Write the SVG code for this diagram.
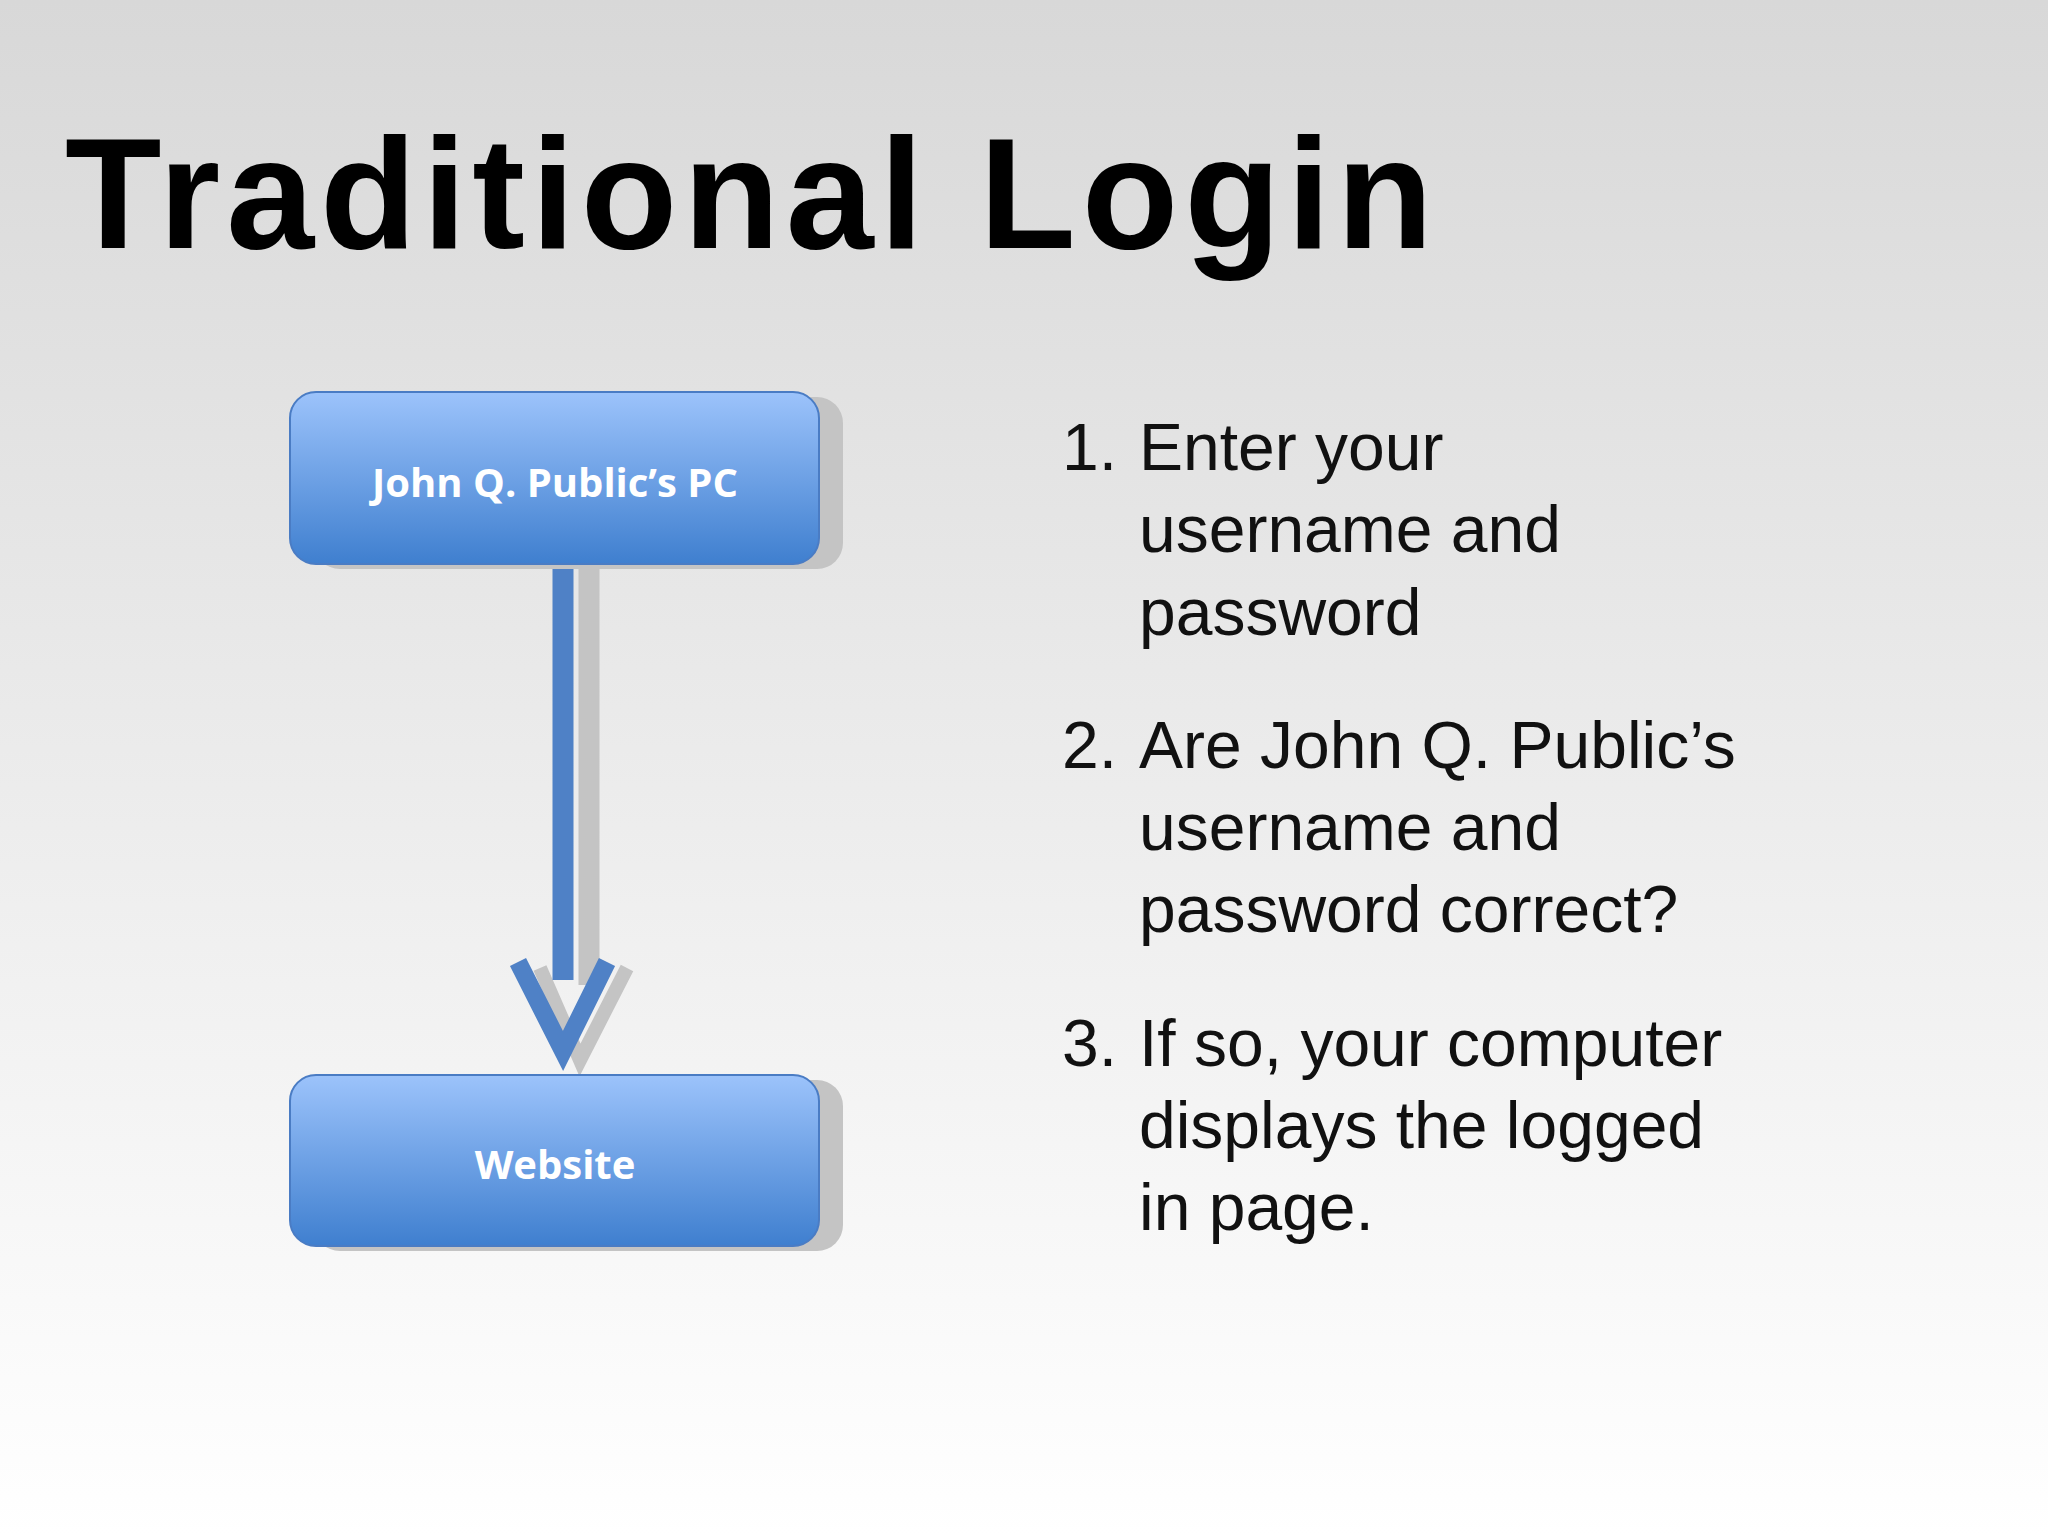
<svg xmlns="http://www.w3.org/2000/svg" width="2048" height="1536" viewBox="0 0 2048 1536">
<defs>
<linearGradient id="bg" x1="0" y1="0" x2="0" y2="1"><stop offset="0" stop-color="#d8d8d8"/><stop offset="1" stop-color="#ffffff"/></linearGradient>
<linearGradient id="box" x1="0" y1="0" x2="0" y2="1"><stop offset="0" stop-color="#9cc3fb"/><stop offset="1" stop-color="#3f7fcf"/></linearGradient>
<style>
.box{fill:url(#box);stroke:#4a7cc4;stroke-width:2}
.sh{fill:#c4c4c4}
.lbl{font-family:"Open Sans","Liberation Sans",sans-serif;font-weight:bold;font-size:40px;fill:#fff;text-anchor:middle}
.li{font-family:"Liberation Sans",Arial,sans-serif;font-size:66px;fill:#111}
</style>
</defs>
<rect width="2048" height="1536" fill="url(#bg)"/>
<text x="65" y="248" font-family="Liberation Sans,Arial,sans-serif" font-weight="bold" font-size="158" textLength="1368" lengthAdjust="spacing" fill="#000">Traditional Login</text>
<g id="connectors">
<line x1="589" y1="564" x2="589" y2="985" stroke="#c4c4c4" stroke-width="21"/>
<polyline points="540,968 580,1060 627,968" fill="none" stroke="#c4c4c4" stroke-width="14"/>
<line x1="563" y1="564" x2="563" y2="980" stroke="#4f81c6" stroke-width="21"/>
<polyline points="518,962 563,1051 607,962" fill="none" stroke="#4f81c6" stroke-width="18"/>
</g>
<g id="pc">
<rect class="sh" x="314" y="397" width="529" height="172" rx="26"/>
<rect class="box" x="290" y="392" width="529" height="172" rx="26"/>
<text class="lbl" x="555" y="497">John Q. Public’s PC</text>
</g>
<g id="website">
<rect class="sh" x="314" y="1080" width="529" height="171" rx="26"/>
<rect class="box" x="290" y="1075" width="529" height="171" rx="26"/>
<text class="lbl" x="555" y="1179">Website</text>
</g>
<g id="list" class="li">
<text x="1062" y="470">1.</text><text x="1139" y="470">Enter your</text>
<text x="1139" y="552">username and</text>
<text x="1139" y="635">password</text>
<text x="1062" y="768">2.</text><text x="1139" y="768">Are John Q. Public’s</text>
<text x="1139" y="850">username and</text>
<text x="1139" y="932">password correct?</text>
<text x="1062" y="1066">3.</text><text x="1139" y="1066">If so, your computer</text>
<text x="1139" y="1148">displays the logged</text>
<text x="1139" y="1230">in page.</text>
</g>
</svg>
